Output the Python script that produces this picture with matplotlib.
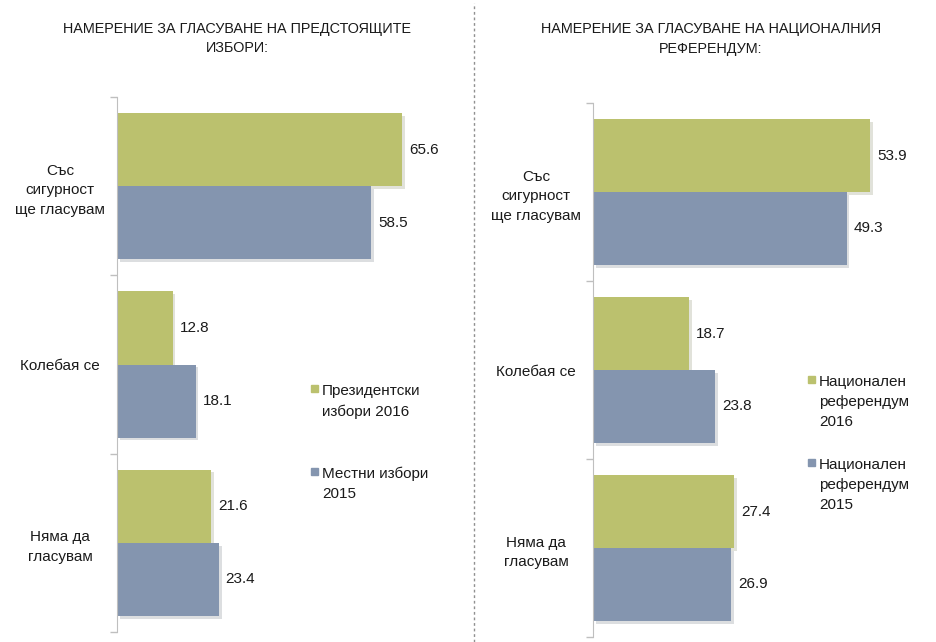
import numpy as np
import matplotlib.pyplot as plt
import matplotlib.patheffects as pe
from matplotlib.lines import Line2D
from matplotlib.patches import Rectangle

plt.rcParams['font.family'] = ['Liberation Sans', 'DejaVu Sans']

# data
categories = ['Със\nсигурност\nще гласувам', 'Колебая се', 'Няма да\nгласувам']

left_title = 'НАМЕРЕНИЕ ЗА ГЛАСУВАНЕ НА ПРЕДСТОЯЩИТЕ\nИЗБОРИ:'
left_names = ['Президентски\nизбори 2016', 'Местни избори\n2015']
left_2016 = [65.6, 12.8, 21.6]
left_2015 = [58.5, 18.1, 23.4]

right_title = 'НАМЕРЕНИЕ ЗА ГЛАСУВАНЕ НА НАЦИОНАЛНИЯ\nРЕФЕРЕНДУМ:'
right_names = ['Национален\nреферендум\n2016', 'Национален\nреферендум\n2015']
right_2016 = [53.9, 18.7, 27.4]
right_2015 = [49.3, 23.8, 26.9]

GREEN = '#BBC16E'
BLUE = '#8495AF'
W, H = 937, 642


def draw_panel(ax, v_new, v_old, xmax):
    y = np.arange(len(categories))
    h = 0.41
    shadow = [pe.SimplePatchShadow(offset=(2, -2), alpha=0.18, rho=0.5), pe.Normal()]
    b1 = ax.barh(y - h / 2, v_new, height=h, color=GREEN, path_effects=shadow)
    b2 = ax.barh(y + h / 2, v_old, height=h, color=BLUE, path_effects=shadow)
    for bars in (b1, b2):
        ax.bar_label(bars, fmt='%.1f', padding=5, fontsize=11, color='#1a1a1a')
    ax.set_xlim(0, xmax)
    ax.set_ylim(len(categories) - 0.5, -0.5)
    ax.set_xticks([])
    ax.set_yticks(y)
    ax.set_yticklabels(categories, ha='center', multialignment='center',
                       fontsize=11, color='#1a1a1a', linespacing=1.5)
    ax.tick_params(axis='y', which='major', length=0, pad=41)
    ax.set_yticks(np.arange(len(categories) + 1) - 0.5, minor=True)
    ax.tick_params(axis='y', which='minor', length=5, color='#BFBFBF', width=1)
    for s in ('top', 'right', 'bottom'):
        ax.spines[s].set_visible(False)
    ax.spines['left'].set_color('#BFBFBF')


def px(x, y):
    return x / W, 1 - y / H


fig = plt.figure(figsize=(9.37, 6.42), dpi=100)

ax1 = fig.add_axes([117 / W, 1 - 632 / H, 353 / W, 535 / H])
draw_panel(ax1, left_2016, left_2015, 81.2)
ax2 = fig.add_axes([593 / W, 1 - 637 / H, 344 / W, 534 / H])
draw_panel(ax2, right_2016, right_2015, 66.9)

# titles
for cx, t in ((237, left_title), (711, right_title)):
    fig.text(*px(cx, 22), t, ha='center', va='top', fontsize=10.4,
             color='#1a1a1a', linespacing=1.5)

# legends
leg = [(311, 384, left_names, [0, 83]), (808, 375, right_names, [0, 83])]
for x0, y0, names, offs in leg:
    for name, dy, col in zip(names, offs, (GREEN, BLUE)):
        sx, sy = px(x0, y0 + dy + 8)
        fig.patches.append(Rectangle((sx, sy), 7 / W, 7 / H, color=col,
                                     transform=fig.transFigure, figure=fig))
        fig.text(*px(x0 + 11, y0 + dy), name, ha='left', va='top',
                 fontsize=11, color='#1a1a1a', linespacing=1.55)

# dotted separator
fig.add_artist(Line2D([474 / W, 474 / W], [0, 0.995], transform=fig.transFigure,
                      color='#909090', linestyle=(0, (2, 2)), linewidth=1))

fig.savefig('out.png', dpi=100)
